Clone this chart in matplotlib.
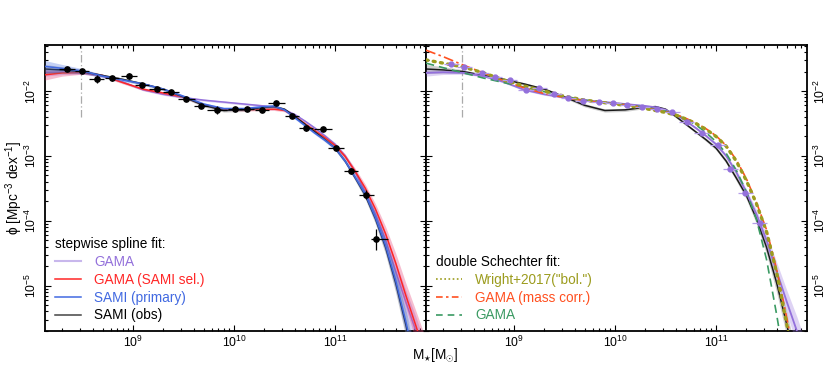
import numpy as np
import matplotlib
matplotlib.use('Agg')
import matplotlib.pyplot as plt
from matplotlib.lines import Line2D
from matplotlib.ticker import LogLocator

plt.rcParams['font.family'] = ['Liberation Sans', 'DejaVu Sans']
plt.rcParams['mathtext.fontset'] = 'custom'
plt.rcParams['mathtext.rm'] = 'Liberation Sans'
plt.rcParams['mathtext.it'] = 'Liberation Sans:italic'
plt.rcParams['mathtext.bf'] = 'Liberation Sans:bold'
plt.rcParams['ytick.alignment'] = 'center'

# ---------------- data (log10 values) ----------------
log_mass_grid = [8.13, 8.3, 8.5, 8.7, 8.9, 9.1, 9.3, 9.5, 9.7, 9.9, 10.1, 10.3, 10.4, 10.5,
                 10.6, 10.7, 10.8, 10.9, 11.0, 11.1, 11.2, 11.3, 11.4, 11.5, 11.6, 11.7, 11.8, 11.9]

# stepwise spline fits (log phi)
spline_gama = [-1.72, -1.71, -1.72, -1.77, -1.86, -1.98, -2.05, -2.10, -2.14, -2.17, -2.20, -2.23, -2.25, -2.29,
               -2.36, -2.46, -2.57, -2.69, -2.82, -3.00, -3.25, -3.56, -3.90, -4.30, -4.78, -5.25, -5.70, -6.20]
spline_gama_sami_sel = [-1.75, -1.72, -1.71, -1.76, -1.87, -1.97, -2.03, -2.09, -2.21, -2.28, -2.29, -2.28, -2.28, -2.30,
                        -2.39, -2.50, -2.61, -2.72, -2.84, -3.01, -3.24, -3.50, -3.82, -4.20, -4.65, -5.15, -5.62, -6.10]
spline_sami_primary = [-1.62, -1.65, -1.69, -1.77, -1.83, -1.89, -1.97, -2.08, -2.20, -2.27, -2.27, -2.24, -2.23, -2.29,
                       -2.41, -2.53, -2.65, -2.76, -2.88, -3.08, -3.33, -3.59, -3.95, -4.38, -4.92, -5.55, -6.25, -7.00]
spline_sami_obs = [-1.66, -1.675, -1.70, -1.76, -1.82, -1.89, -1.97, -2.09, -2.22, -2.30, -2.29, -2.25, -2.24, -2.28,
                   -2.39, -2.51, -2.63, -2.75, -2.88, -3.08, -3.34, -3.61, -3.97, -4.41, -4.96, -5.60, -6.30, -7.00]

# uncertainty half-widths of the spline bands (dex)
band_gama = [0.05, 0.035, 0.02, 0.015, 0.015, 0.015, 0.015, 0.015, 0.015, 0.015, 0.015, 0.015, 0.015, 0.015,
             0.015, 0.015, 0.02, 0.02, 0.025, 0.03, 0.04, 0.05, 0.07, 0.10, 0.14, 0.18, 0.22, 0.26]
band_gama_sami_sel = [0.08, 0.05, 0.03, 0.02, 0.02, 0.02, 0.02, 0.02, 0.02, 0.02, 0.02, 0.02, 0.02, 0.02,
                      0.02, 0.02, 0.02, 0.025, 0.03, 0.035, 0.045, 0.06, 0.08, 0.11, 0.15, 0.19, 0.23, 0.27]
band_sami_primary = [0.09, 0.06, 0.035, 0.025, 0.02, 0.02, 0.02, 0.02, 0.02, 0.02, 0.02, 0.02, 0.02, 0.02,
                     0.02, 0.02, 0.02, 0.025, 0.03, 0.035, 0.045, 0.06, 0.08, 0.11, 0.15, 0.19, 0.23, 0.27]
band_sami_obs = [0.07, 0.05, 0.03, 0.02, 0.02, 0.02, 0.02, 0.02, 0.025, 0.025, 0.025, 0.02, 0.02, 0.02,
                 0.02, 0.02, 0.02, 0.025, 0.03, 0.035, 0.045, 0.06, 0.08, 0.11, 0.15, 0.19, 0.23, 0.27]

# double Schechter fits (log phi)
ds_wright2017 = [-1.52, -1.57, -1.63, -1.72, -1.83, -1.92, -2.00, -2.08, -2.14, -2.18, -2.22, -2.27, -2.30, -2.33,
                 -2.37, -2.43, -2.50, -2.59, -2.70, -2.85, -3.08, -3.38, -3.74, -4.17, -4.80, -5.60, -6.50, -7.50]
ds_gama_masscorr = [-1.37, -1.47, -1.60, -1.72, -1.84, -1.95, -2.04, -2.10, -2.15, -2.18, -2.21, -2.26, -2.29, -2.32,
                    -2.36, -2.42, -2.49, -2.58, -2.69, -2.84, -3.06, -3.35, -3.72, -4.14, -4.75, -5.50, -6.30, -7.30]
ds_gama = [-1.57, -1.64, -1.72, -1.80, -1.87, -1.94, -2.01, -2.08, -2.14, -2.18, -2.21, -2.25, -2.28, -2.31,
           -2.36, -2.43, -2.52, -2.64, -2.78, -2.96, -3.22, -3.55, -3.98, -4.60, -5.45, -6.40, -7.50, -8.70]

# SAMI stepwise data points (left panel)
sami_logm = [8.35, 8.50, 8.64, 8.79, 8.96, 9.09, 9.24, 9.38, 9.53, 9.67, 9.83, 10.01, 10.13,
             10.28, 10.42, 10.57, 10.71, 10.88, 11.01, 11.16, 11.31, 11.41]
sami_logphi = [-1.666, -1.692, -1.820, -1.804, -1.769, -1.908, -1.969, -2.011, -2.123, -2.226, -2.297,
               -2.277, -2.282, -2.288, -2.190, -2.381, -2.575, -2.586, -2.883, -3.233, -3.602, -4.285]
sami_xerr_lo = [0.08, 0.07, 0.07, 0.07, 0.08, 0.07, 0.08, 0.08, 0.08, 0.07, 0.10, 0.07, 0.07,
                0.07, 0.08, 0.07, 0.07, 0.09, 0.08, 0.07, 0.07, 0.05]
sami_xerr_hi = [0.08, 0.07, 0.07, 0.07, 0.08, 0.07, 0.08, 0.08, 0.08, 0.07, 0.10, 0.07, 0.07,
                0.07, 0.08, 0.07, 0.07, 0.09, 0.08, 0.07, 0.08, 0.11]
sami_yerr = [0.03, 0.03, 0.06, 0.04, 0.04, 0.03, 0.03, 0.03, 0.03, 0.03, 0.06, 0.03, 0.03,
             0.03, 0.03, 0.03, 0.04, 0.03, 0.03, 0.04, 0.07, 0.16]

# GAMA stepwise data points (right panel)
gama_logm = [8.38, 8.51, 8.68, 8.81, 8.96, 9.12, 9.25, 9.40, 9.54, 9.68, 9.84, 9.98, 10.12,
             10.27, 10.42, 10.565, 10.71, 10.86, 11.02, 11.14, 11.29, 11.43]
gama_logphi = [-1.59, -1.635, -1.718, -1.78, -1.83, -1.99, -1.96, -2.05, -2.11, -2.16, -2.165, -2.19, -2.215,
               -2.24, -2.27, -2.33, -2.47, -2.65, -2.83, -3.20, -3.57, -4.04]
gama_xerr = 0.075

# completeness limit marker
log_mass_limit = 8.49
log_phi_limit_line_bottom = -2.40

xlim_log = (8.13, 11.9)
ylim_log = (-5.70, -1.29)

# ---------------- colours ----------------
c_gama = '#9370DB'
c_red = '#FF2626'
c_red_band = '#E8457A'
c_blue = '#4169E1'
c_black = '#1A1A1A'
c_olive = '#9C9C1E'
c_orange = '#FF5020'
c_green = '#3A9A62'

fig = plt.figure(figsize=(8.3, 3.88), dpi=100)
ax1 = fig.add_axes([45 / 830, 57 / 388, 381 / 830, 286 / 388])
ax2 = fig.add_axes([426 / 830, 57 / 388, 381 / 830, 286 / 388])

M = 10 ** np.array(log_mass_grid)


def spline(ax, vals, band, color, band_color, lw=1.1, alpha=0.3, z=2):
    v = np.array(vals)
    b = np.array(band)
    ax.fill_between(M, 10 ** (v - b), 10 ** (v + b), color=band_color, alpha=alpha, lw=0, zorder=z)
    ax.plot(M, 10 ** v, color=color, lw=lw, zorder=z + 0.5, solid_capstyle='round')


for ax in (ax1, ax2):
    ax.set_xscale('log')
    ax.set_yscale('log')
    ax.set_xlim(10 ** xlim_log[0], 10 ** xlim_log[1])
    ax.set_ylim(10 ** ylim_log[0], 10 ** ylim_log[1])
    ax.vlines(10 ** log_mass_limit, 10 ** log_phi_limit_line_bottom, 10 ** ylim_log[1],
              colors='#AAAAAA', lw=0.9, linestyles=(0, (6, 2, 1, 2)), zorder=1)
    ax.tick_params(which='both', direction='in', top=True, right=True, width=0.8)
    ax.tick_params(which='major', length=4.3)
    ax.tick_params(which='minor', length=2.5)
    ax.tick_params(axis='x', labelsize=8.8, pad=2.5)
    ax.tick_params(axis='y', labelsize=8.8, labelrotation=90)
    for sp in ax.spines.values():
        sp.set_linewidth(1.3)
    ax.xaxis.set_minor_locator(LogLocator(base=10, subs=np.arange(2, 10), numticks=20))
    ax.yaxis.set_minor_locator(LogLocator(base=10, subs=np.arange(2, 10), numticks=20))

ax1.tick_params(axis='y', labelleft=True, labelright=False, pad=4.5)
ax2.tick_params(axis='y', labelleft=False, labelright=True, pad=4.3)

# ---------------- left panel ----------------
spline(ax1, spline_gama, band_gama, c_gama, c_gama, lw=1.1, alpha=0.35, z=2)
spline(ax1, spline_gama_sami_sel, band_gama_sami_sel, c_red, c_red_band, lw=1.1, alpha=0.35, z=3)
spline(ax1, spline_sami_obs, band_sami_obs, c_black, '#777777', lw=1.1, alpha=0.35, z=4)
spline(ax1, spline_sami_primary, band_sami_primary, c_blue, c_blue, lw=1.1, alpha=0.3, z=5)

sm = 10 ** np.array(sami_logm)
sp_ = 10 ** np.array(sami_logphi)
xlo = sm - 10 ** (np.array(sami_logm) - np.array(sami_xerr_lo))
xhi = 10 ** (np.array(sami_logm) + np.array(sami_xerr_hi)) - sm
ylo = sp_ - 10 ** (np.array(sami_logphi) - np.array(sami_yerr))
yhi = 10 ** (np.array(sami_logphi) + np.array(sami_yerr)) - sp_
ax1.errorbar(sm, sp_, xerr=[xlo, xhi], yerr=[ylo, yhi], fmt='o', ms=3.8, color='black',
             ecolor='black', elinewidth=0.9, capsize=0, zorder=8)

h1 = [Line2D([], [], color=c_gama, lw=1.5, alpha=0.5),
      Line2D([], [], color=c_red, lw=1.1),
      Line2D([], [], color=c_blue, lw=1.1),
      Line2D([], [], color='#444444', lw=1.1)]
l1 = ['GAMA', 'GAMA (SAMI sel.)', 'SAMI (primary)', 'SAMI (obs)']
leg1 = ax1.legend(h1, l1, title='stepwise spline fit:', loc='lower left', bbox_to_anchor=(0.009, 0.006),
                  frameon=False, borderpad=0, handlelength=1.9, handletextpad=0.95, labelspacing=0.28,
                  alignment='left', fontsize=9.8, title_fontsize=9.8,
                  labelcolor=[c_gama, c_red, c_blue, 'black'])

# ---------------- right panel ----------------
spline(ax2, spline_sami_obs, band_sami_obs, c_black, '#777777', lw=1.1, alpha=0.35, z=2)
spline(ax2, spline_gama, band_gama, c_gama, c_gama, lw=1.3, alpha=0.3, z=3)
ax2.plot(M, 10 ** np.array(ds_gama), color=c_green, lw=1.2, ls=(0, (5, 3)), zorder=5)
ax2.plot(M, 10 ** np.array(ds_gama_masscorr), color=c_orange, lw=1.2, ls=(0, (6, 2, 1.5, 2)), zorder=6)
ax2.plot(M, 10 ** np.array(ds_wright2017), color=c_olive, lw=2.4, ls=(0, (0.6, 1.6)),
         dash_capstyle='round', zorder=7)

gm = 10 ** np.array(gama_logm)
gp = 10 ** np.array(gama_logphi)
gxlo = gm - 10 ** (np.array(gama_logm) - gama_xerr)
gxhi = 10 ** (np.array(gama_logm) + gama_xerr) - gm
ax2.errorbar(gm, gp, xerr=[gxlo, gxhi], fmt='o', ms=3.5, color=c_gama, ecolor='#B49CE8',
             elinewidth=0.9, capsize=0, zorder=8)

h2 = [Line2D([], [], color=c_olive, lw=1.2, ls=(0, (1, 1.5))),
      Line2D([], [], color=c_orange, lw=1.2, ls=(0, (4, 2, 1.5, 2))),
      Line2D([], [], color=c_green, lw=1.2, ls=(0, (4, 3)))]
l2 = ['Wright+2017("bol.")', 'GAMA (mass corr.)', 'GAMA']
leg2 = ax2.legend(h2, l2, title='double Schechter fit:', loc='lower left', bbox_to_anchor=(0.009, 0.006),
                  frameon=False, borderpad=0, handlelength=1.9, handletextpad=0.95, labelspacing=0.28,
                  alignment='left', fontsize=9.8, title_fontsize=9.8,
                  labelcolor=[c_olive, c_orange, c_green])

# ---------------- axis labels ----------------
fig.text(14 / 830, 1 - 188 / 388, 'ϕ [Mpc$^{-3}$ dex$^{-1}$]', rotation=90, ha='center', va='center',
         fontsize=9.8)
fig.text(435 / 830, 1 - 355 / 388, r'M$_{\star}$[M$_{\odot}$]', ha='center', va='center', fontsize=9.8)

fig.savefig('out.png', dpi=100)
